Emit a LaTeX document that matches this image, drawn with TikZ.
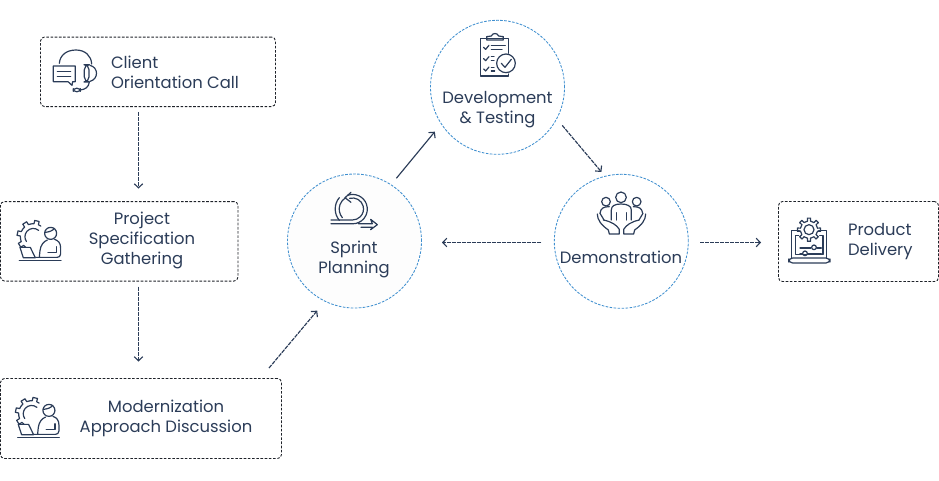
\documentclass[tikz,border=0pt]{standalone}
\usepackage{fontspec}
\setmainfont{Poppins}
\usetikzlibrary{calc,arrows.meta}
\definecolor{ink}{HTML}{2B3C58}
\definecolor{ringblue}{HTML}{3F8FCF}
\definecolor{boxline}{HTML}{1E2229}
\tikzset{
  x=1pt,y=-1pt,
  every node/.style={inner sep=0pt,outer sep=0pt},
  stagebox/.style={draw=boxline,line width=.9pt,dash pattern=on 2.6pt off 1.6pt,rounded corners=4pt},
  ring/.style={circle,draw=ringblue,line width=.85pt,dash pattern=on 2.6pt off 1.4pt,minimum size=134pt},
  caption/.style={text=ink,font=\fontsize{16.4}{20}\selectfont,align=center},
  captionleft/.style={caption,align=left},
  flow/.style={draw=ink,line width=1.15pt,dash pattern=on 4pt off 1pt,
    -{Straight Barb[length=4pt,width=8.5pt,line width=1.15pt]}},
  glyph/.style={x=.3333pt,y=-.3333pt,draw=ink,line width=1.2pt,line cap=round,line join=round},
  pics/worker/.style={code={
    \begin{scope}[glyph]
      % gear behind the person
      \foreach \a in {148,193,238,283}{
        \draw (\a-22.5:39) arc[start angle=\a-22.5,end angle=\a-10,radius=39]
          -- (\a-8:49) -- (\a+8:49) -- (\a+10:39) arc[start angle=\a+10,end angle=\a+22.5,radius=39];
      }
      \draw (16,-19) arc[start angle=-50,end angle=-215,radius=25];
      % head and hair
      \draw (52,-10) circle[radius=18];
      \draw (35,-13) .. controls (46,-14) and (58,-17) .. (63,-25);
      % body
      \draw (18,62) -- (20,42) .. controls (22,24) and (32,14) .. (42,10)
            (64,8) .. controls (76,12) and (82,20) .. (82,34) -- (82,52) .. controls (82,59) and (77,62) .. (71,62) -- (8,62);
      \draw (44,48) -- (70,48) -- (70,30);
      % laptop and desk line
      \draw (-40,32) -- (-9,32) -- (6,63) -- (-30,63) -- cycle;
      \draw (-42,71) -- (83,71);
    \end{scope}
  }},
}
\begin{document}
\begin{tikzpicture}
  \useasboundingbox (0,0) rectangle (939,480);

  % stage boxes
  \node[stagebox,minimum width=235pt,minimum height=69.5pt] (client) at (158,71.8) {};
  \node[stagebox,minimum width=237.5pt,minimum height=79.5pt] (project) at (119.25,241.3) {};
  \node[stagebox,minimum width=281pt,minimum height=80pt] (modern) at (141,418.5) {};
  \node[stagebox,minimum width=160pt,minimum height=80pt] (product) at (858.5,241.5) {};

  % iteration rings
  \node[ring,fill=black!0.8] (sprint) at (354.5,241) {};
  \node[ring] (devtest) at (497.5,87.3) {};
  \node[ring] (demo) at (621.3,241.3) {};

  % captions
  \node[captionleft,anchor=west] (t1) at (111,72) {Client\\Orientation Call};
  \node[caption] (t2) at (142,240) {Project\\Specification\\Gathering};
  \node[caption] (t3) at (166,418) {Modernization\\Approach Discussion};
  \node[captionleft,anchor=west] (t4) at (848,241.5) {Product\\Delivery};
  \node[caption] (t5) at (354,259) {Sprint\\Planning};
  \node[caption] (t6) at (497.5,110) {Development\\\& Testing};
  \node[caption] (t7) at (621,257) {Demonstration};

  % connectors
  \coordinate (leftlane) at (138.5,0);
  \draw[flow,shorten <=5.5pt,shorten >=13pt] (client.south -| leftlane) -- (project.north -| leftlane);
  \draw[flow,shorten <=5.5pt,shorten >=17pt] (project.south -| leftlane) -- (modern.north -| leftlane);
  \coordinate (launch) at ($(modern.north east)+(-12.5,-10.5)$);
  \draw[flow,shorten >=12.3pt] (launch) -- (sprint.244.8);
  \draw[flow,solid,shorten <=8.5pt,shorten >=10.2pt] (sprint.57.5) -- (devtest.213.4);
  \draw[flow,shorten <=8.7pt,shorten >=5.7pt] (devtest.-28.6) -- (demo.104.3);
  \draw[flow,shorten <=13pt,shorten >=20.5pt] ([yshift=-1.2pt]demo.west) -- ([yshift=-1.5pt]sprint.east);
  \draw[flow,shorten <=12pt,shorten >=17.5pt] ([yshift=-1.2pt]demo.east) -- ([yshift=-1pt]product.west);

  % headset with speech bubble
  \begin{scope}[shift={(0,20)},glyph]
    \draw (178,130) .. controls (180,105) and (200,90) .. (228,90) .. controls (256,90) and (274,108) .. (275,132);
    \draw[rounded corners=5pt] (253,134) rectangle (267,186);
    \draw (270,136) .. controls (296,142) and (296,178) .. (270,184);
    \draw (268,186) .. controls (266,202) and (256,208) .. (241,210);
    \draw[rounded corners=3pt] (220,205) rectangle (241,215);
    \draw (160,138) -- (226,138) -- (226,185) -- (218,185) -- (216,196) -- (204,185) -- (160,185) -- cycle;
    \draw (172,155) -- (212,155) (172,170) -- (212,170);
  \end{scope}

  % person at a laptop in front of a gear
  \pic at (33.3,236.7) {worker};
  \pic at (31.6,413.7) {worker};

  % cycle with outgoing arrow
  \begin{scope}[shift={(325,185)},glyph]
    \draw (68,31) arc[start angle=-110,end angle=90,radius=44] -- (18,116);
    \draw (74,40) arc[start angle=-105,end angle=90,radius=33] -- (18,105);
    \draw (43,106) arc[start angle=140,end angle=220,radius=53];
    \draw (52,98) arc[start angle=140,end angle=240,radius=40];
    \draw (78,22) -- (60,38) -- (78,52);
    \draw (100,116) -- (142,116) -- (137,103) -- (157,119) -- (137,134) -- (142,127) -- (108,127);
  \end{scope}

  % clipboard with check marks
  \begin{scope}[shift={(280,10)},glyph]
    \draw (645,198) -- (602,198) -- (602,85) -- (686,85) -- (686,130);
    \draw (686,192) -- (686,198) -- (645,198);
    \draw (620,90) -- (620,80) -- (634,78) .. controls (638,68) and (652,68) .. (656,78) -- (670,80) -- (670,90) -- cycle;
    \draw (678,160) circle[radius=28];
    \draw (664,160) -- (675,172) -- (694,148);
    \foreach \y in {112,146,177}{
      \draw (611,\y) -- (617,\y+6) -- (627,\y-6);
    }
    \draw (634,106) -- (676,106) (634,119) -- (666,119);
    \draw (634,140) -- (642,140) (634,151) -- (642,151) (634,172) -- (642,172) (634,183) -- (644,183);
  \end{scope}

  % team held in two hands
  \begin{scope}[shift={(540,170)},glyph]
    \draw (198,95) circle[radius=13] (243,82) circle[radius=16] (290,95) circle[radius=13];
    \draw (214,150) -- (214,120) .. controls (214,108) and (224,102) .. (243,102) .. controls (262,102) and (274,108) .. (274,120) -- (274,150);
    \draw (229,128) -- (229,150) (260,128) -- (260,150);
    \draw (180,130) .. controls (182,115) and (190,110) .. (208,110);
    \draw (308,130) .. controls (306,115) and (298,110) .. (280,110);
    \draw (172,132) .. controls (172,150) and (184,165) .. (205,180) -- (208,192) -- (238,192) -- (238,178) .. controls (230,165) and (215,155) .. (190,150) (180,130) -- (192,150);
    \draw (317,132) .. controls (317,150) and (305,165) .. (284,180) -- (281,192) -- (251,192) -- (251,178) .. controls (259,165) and (274,155) .. (298,150) (309,130) -- (297,150);
  \end{scope}

  % laptop with gear and sliders
  \begin{scope}[shift={(780,212)},glyph]
    \begin{scope}[shift={(87,53)}]
      \foreach \a in {0,45,...,315}{
        \draw (\a-10:26) -- (\a-8:35) -- (\a+8:35) -- (\a+10:26) arc[start angle=\a+10,end angle=\a+35,radius=26];
      }
      \draw (0,0) circle[radius=15];
    \end{scope}
    \draw (58,55) -- (35,55) -- (35,137) (140,137) -- (140,55) -- (116,55);
    \draw (56,70) -- (46,70) -- (46,128) -- (129,128) -- (129,70) -- (119,70);
    \draw[rounded corners=4pt] (26,138) -- (150,138) -- (150,153) -- (26,153) -- cycle;
    \draw (60,108) -- (93,108) (110,108) -- (124,108) (60,124) -- (66,124) (84,124) -- (124,124);
    \draw (102,106) circle[radius=7] (75,124) circle[radius=7];
  \end{scope}
\end{tikzpicture}
\end{document}
